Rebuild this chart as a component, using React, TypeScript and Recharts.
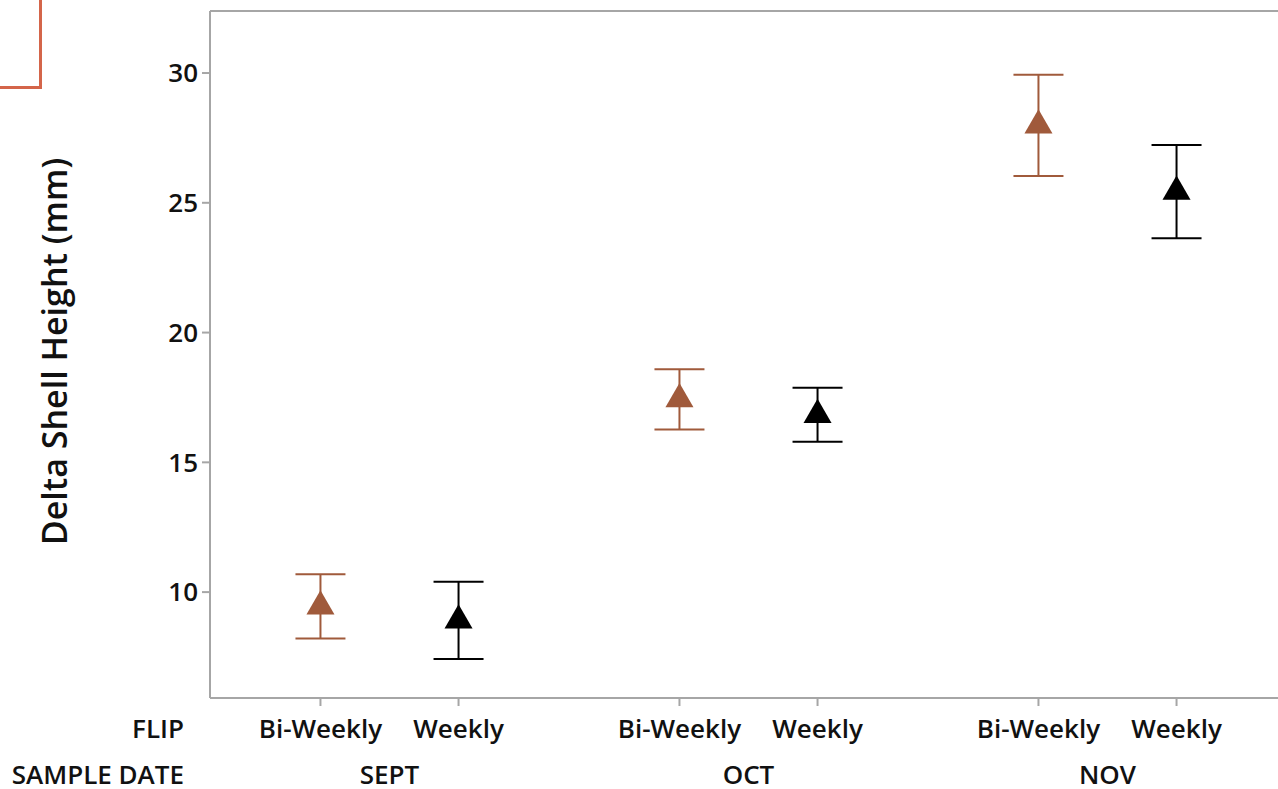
import React from 'react';
import {
  ComposedChart,
  Scatter,
  ErrorBar,
  XAxis,
  YAxis,
  ZAxis,
} from 'recharts';

// Category structure
const sampleDates = ['SEPT', 'OCT', 'NOV'];
const flipLabels = ['Bi-Weekly', 'Weekly'];

// Mean delta shell height (mm) and half-width of the error bar, per sample date
const biWeeklyMean = [9.45, 17.43, 27.98];
const biWeeklyErr = [1.24, 1.16, 1.95];
const weeklyMean = [8.91, 16.83, 25.43];
const weeklyErr = [1.49, 1.04, 1.8];

const yTicks = [10, 15, 20, 25, 30];

// Layout constants
const GROUP_STEP = 2.6; // horizontal distance between sample-date groups (in flip units)
const CHART_W = 1300;
const CHART_H = 789;
const MARGIN = { top: 10, right: 12, bottom: 0, left: 0 };
const Y_AXIS_W = 210;
const PLOT_LEFT = MARGIN.left + Y_AXIS_W;

const AXIS_GRAY = '#a6a6a6';
const BROWN = '#a05a3b';
const BLACK = '#000000';
const FONT = '"Open Sans", "Noto Sans", sans-serif';

const pos = (dateIdx: number, flipIdx: number) => dateIdx * GROUP_STEP + flipIdx;

const biWeeklyData = sampleDates.map((d, i) => ({
  x: pos(i, 0),
  y: biWeeklyMean[i],
  err: biWeeklyErr[i],
}));
const weeklyData = sampleDates.map((d, i) => ({
  x: pos(i, 1),
  y: weeklyMean[i],
  err: weeklyErr[i],
}));

const flipTicks = sampleDates.flatMap((_, i) => flipLabels.map((_, j) => pos(i, j)));
const dateTicks = sampleDates.map((_, i) => pos(i, 0.5));

const X_DOMAIN: [number, number] = [-0.8, pos(2, 1) + 0.8];
const Y_DOMAIN: [number, number] = [5.92, 32.39];

const textStyle = {
  fontFamily: FONT,
  fontWeight: 600,
  fontSize: 26,
  fill: '#111',
};

const FlipTick = (props: any) => {
  const { x, y, index } = props;
  return (
    <g>
      <text x={x} y={y} dy={30} textAnchor="middle" style={textStyle}>
        {flipLabels[index % flipLabels.length]}
      </text>
      {index === 0 && (
        <text x={PLOT_LEFT - 26} y={y} dy={30} textAnchor="end" style={textStyle}>
          FLIP
        </text>
      )}
    </g>
  );
};

const DateTick = (props: any) => {
  const { x, y, index } = props;
  return (
    <g>
      <text x={x} y={y} dy={41} textAnchor="middle" style={textStyle}>
        {sampleDates[index]}
      </text>
      {index === 0 && (
        <text x={PLOT_LEFT - 26} y={y} dy={41} textAnchor="end" style={textStyle}>
          SAMPLE DATE
        </text>
      )}
    </g>
  );
};

const YTitle = (props: any) => {
  const { viewBox } = props;
  const cy = viewBox.y + viewBox.height / 2 - 3;
  const cx = 67;
  return (
    <text
      x={cx}
      y={cy}
      transform={`rotate(-90 ${cx} ${cy})`}
      textAnchor="middle"
      style={{ ...textStyle, fontSize: 34 }}
    >
      Delta Shell Height (mm)
    </text>
  );
};

export default function App() {
  return (
    <div
      style={{
        position: 'fixed',
        left: 0,
        top: 0,
        width: 1278,
        height: 789,
        overflow: 'hidden',
        background: '#fff',
      }}
    >
      {/* selection bracket in the corner */}
      <div
        style={{
          position: 'absolute',
          left: 0,
          top: 0,
          width: 42,
          height: 89,
          boxSizing: 'border-box',
          borderRight: '3px solid #d4654a',
          borderBottom: '3px solid #d4654a',
        }}
      />
      <ComposedChart width={CHART_W} height={CHART_H} margin={MARGIN}>
        <XAxis
          xAxisId="a-flip"
          dataKey="x"
          type="number"
          domain={X_DOMAIN}
          allowDataOverflow
          ticks={flipTicks}
          interval={0}
          height={45}
          tickSize={8}
          tickMargin={2}
          stroke={AXIS_GRAY}
          axisLine={{ stroke: AXIS_GRAY, strokeWidth: 2 }}
          tickLine={{ stroke: AXIS_GRAY, strokeWidth: 2 }}
          tick={<FlipTick />}
        />
        <XAxis
          xAxisId="b-date"
          dataKey="x"
          type="number"
          domain={X_DOMAIN}
          allowDataOverflow
          ticks={dateTicks}
          interval={0}
          height={46}
          tickSize={0}
          tickMargin={0}
          axisLine={false}
          tickLine={false}
          tick={<DateTick />}
        />
        <XAxis
          xAxisId="c-top"
          orientation="top"
          dataKey="x"
          type="number"
          domain={X_DOMAIN}
          allowDataOverflow
          height={1}
          tick={false}
          tickLine={false}
          stroke={AXIS_GRAY}
          axisLine={{ stroke: AXIS_GRAY, strokeWidth: 2 }}
        />
        <YAxis
          yAxisId="y"
          type="number"
          domain={Y_DOMAIN}
          allowDataOverflow
          ticks={yTicks}
          interval={0}
          width={Y_AXIS_W}
          tickSize={8}
          tickMargin={4}
          stroke={AXIS_GRAY}
          axisLine={{ stroke: AXIS_GRAY, strokeWidth: 2 }}
          tickLine={{ stroke: AXIS_GRAY, strokeWidth: 2 }}
          tick={{ ...textStyle, fontSize: 26 }}
          label={<YTitle />}
        />
        <YAxis
          yAxisId="z-right"
          orientation="right"
          type="number"
          domain={Y_DOMAIN}
          width={1}
          tick={false}
          tickLine={false}
          stroke={AXIS_GRAY}
          axisLine={{ stroke: AXIS_GRAY, strokeWidth: 2 }}
        />
        <ZAxis range={[340, 340]} />
        <Scatter
          name="Bi-Weekly"
          data={biWeeklyData}
          dataKey="y"
          xAxisId="a-flip"
          yAxisId="y"
          fill={BROWN}
          shape="triangle"
          isAnimationActive={false}
        >
          <ErrorBar dataKey="err" direction="y" width={25} stroke={BROWN} strokeWidth={2} />
        </Scatter>
        <Scatter
          name="Weekly"
          data={weeklyData}
          dataKey="y"
          xAxisId="a-flip"
          yAxisId="y"
          fill={BLACK}
          shape="triangle"
          isAnimationActive={false}
        >
          <ErrorBar dataKey="err" direction="y" width={25} stroke={BLACK} strokeWidth={2} />
        </Scatter>
      </ComposedChart>
    </div>
  );
}
